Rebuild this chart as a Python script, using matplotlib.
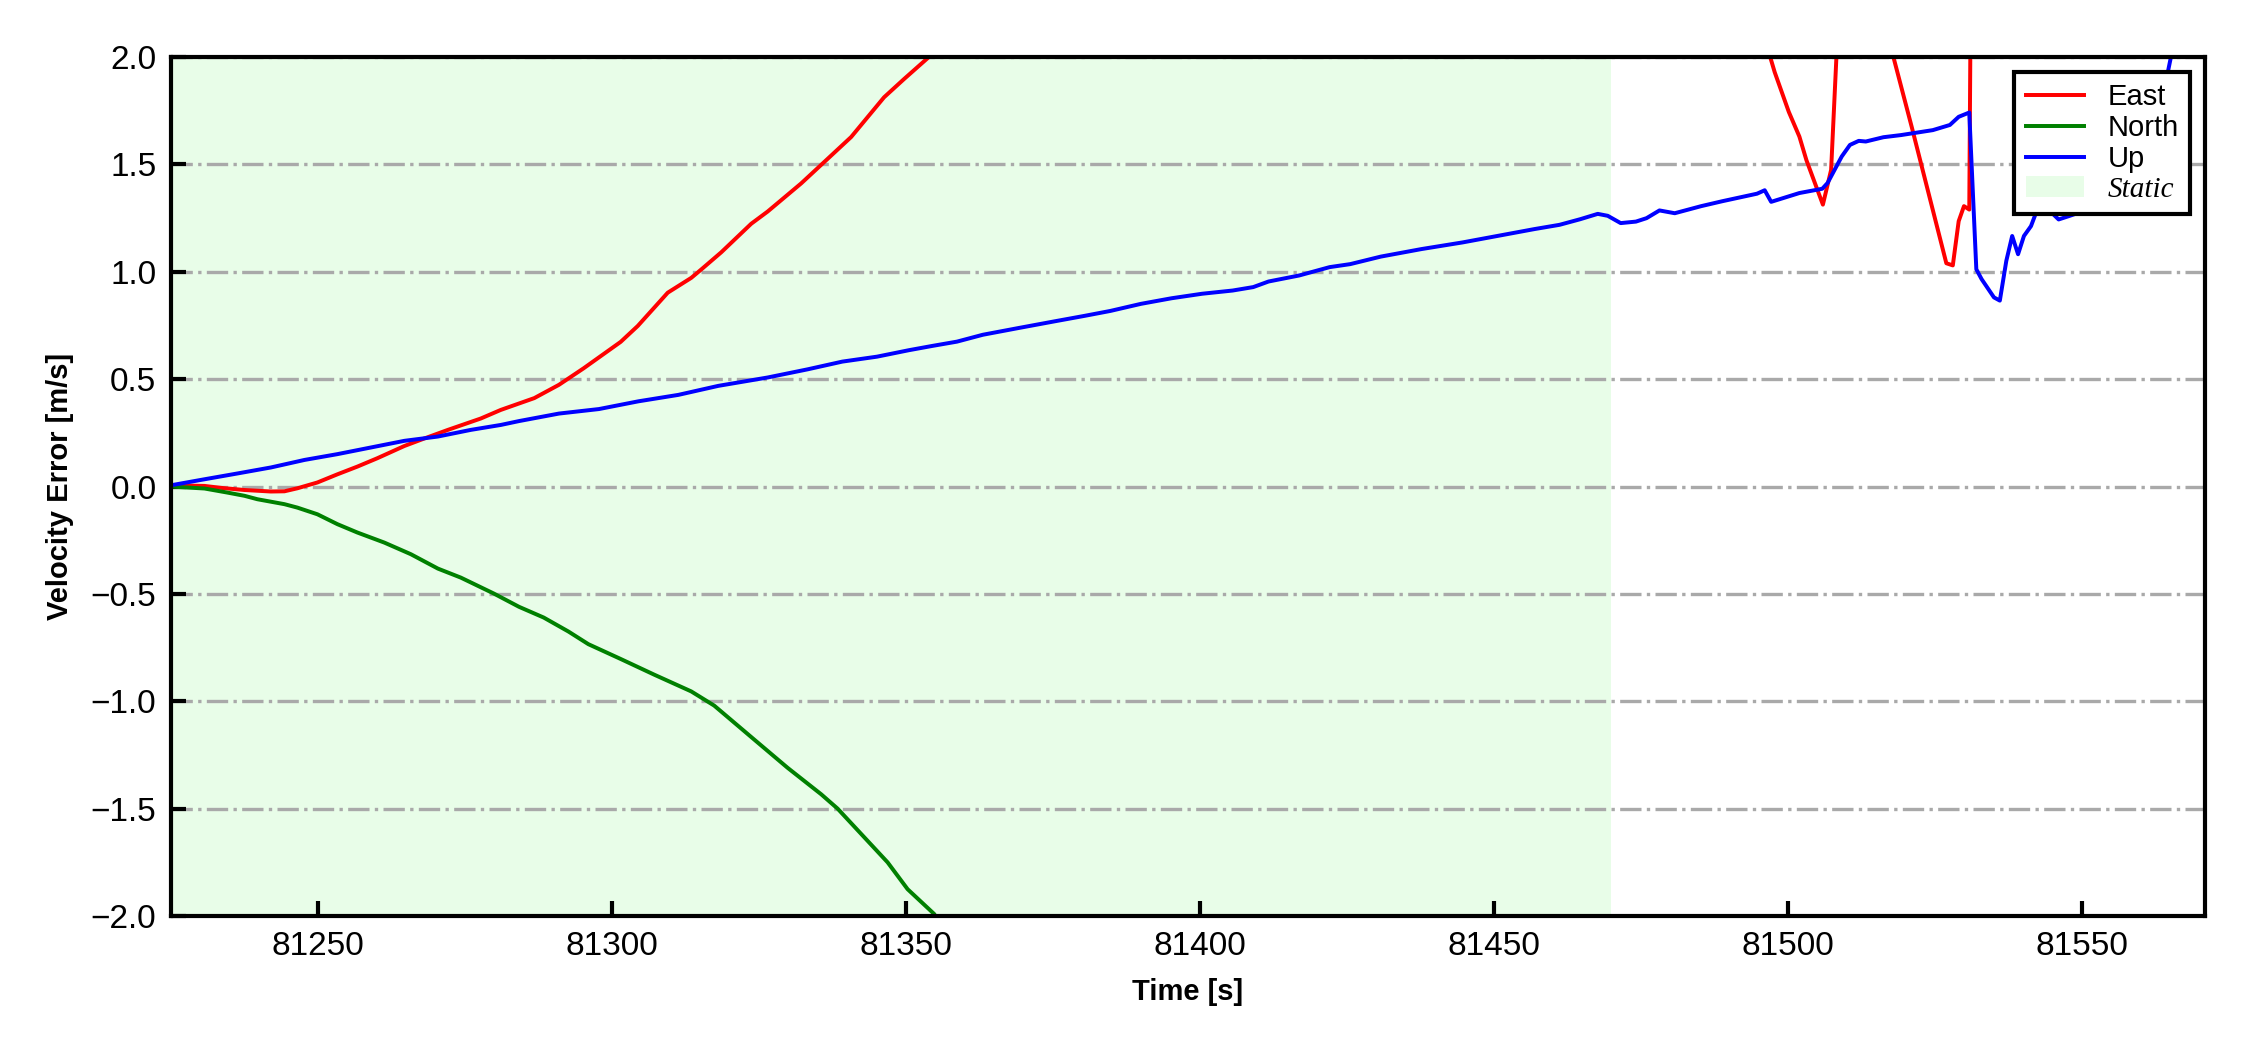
import numpy as np
import matplotlib
matplotlib.use('Agg')
import matplotlib.pyplot as plt

plt.rcParams['font.family'] = ['Liberation Sans', 'DejaVu Sans']
plt.rcParams['axes.unicode_minus'] = True

# East velocity error (NaN = off scale gap)
t_east = [81225, 81230.7, 81233.5, 81237.5, 81242.0, 81244.3, 81246.5, 81249.9,
          81253.3, 81256.7, 81260.1, 81264.7, 81268.1, 81272.1, 81277.7, 81281.1,
          81286.8, 81291.0, 81295.2, 81301.5, 81304.4, 81309.5, 81313.5, 81315.2,
          81318.6, 81323.7, 81326.5, 81332.2, 81336.1, 81340.7, 81346.3, 81349.7,
          81353.7, 81355.0,
          81420,
          81496.5, 81497.8, 81500.2, 81502.0, 81503.2, 81506.0, 81507.4, 81508.3, 81508.6,
          81513,
          81517.8, 81518.0, 81521.1, 81527.0, 81528.1, 81529.1, 81530.0, 81530.9, 81531.1]
v_east = [0.006, 0.003, -0.006, -0.016, -0.023, -0.022, -0.008, 0.019,
          0.057, 0.093, 0.132, 0.189, 0.224, 0.264, 0.317, 0.357,
          0.412, 0.474, 0.551, 0.674, 0.748, 0.903, 0.972, 1.011,
          1.091, 1.224, 1.281, 1.412, 1.511, 1.628, 1.813, 1.898,
          1.995, 2.03,
          np.nan,
          2.05, 1.93, 1.745, 1.63, 1.52, 1.313, 1.475, 2.0, 2.05,
          np.nan,
          2.05, 2.0, 1.676, 1.04, 1.03, 1.236, 1.306, 1.29, 2.1]

# North velocity error
t_north = [81225, 81230.7, 81234.6, 81237.5, 81239.7, 81244.3, 81246.5, 81249.9,
           81253.3, 81256.7, 81261.3, 81265.8, 81270.4, 81274.3, 81279.9, 81284.2,
           81288.4, 81292.6, 81296.0, 81301.5, 81307.2, 81313.5, 81317.4, 81324.2,
           81329.9, 81335.6, 81338.4, 81343.5, 81346.9, 81350.3, 81354.8, 81355.8]
v_north = [0.0, -0.009, -0.028, -0.043, -0.059, -0.082, -0.098, -0.129,
           -0.175, -0.214, -0.261, -0.315, -0.382, -0.424, -0.498, -0.56,
           -0.61, -0.675, -0.734, -0.803, -0.876, -0.954, -1.02, -1.178,
           -1.31, -1.433, -1.5, -1.65, -1.75, -1.875, -1.99, -2.03]

# Up velocity error
t_up = [81225, 81230.7, 81236.3, 81242.0, 81247.7, 81253.3, 81259.0, 81264.7,
        81270.4, 81276.0, 81281.1, 81284.2, 81291.0, 81297.8, 81304.5, 81311.3,
        81318.1, 81326.5, 81333.3, 81339.2, 81345.1, 81350.5, 81354.5, 81358.7,
        81363.1, 81369.1, 81375.2, 81380.4, 81384.8, 81390.0, 81395.2, 81400.4,
        81405.6, 81409.1, 81411.7, 81416.9, 81422.1, 81425.6, 81430.8, 81437.7,
        81444.7, 81450.8, 81456.9, 81461.2, 81464.7, 81467.7, 81469.4, 81471.6,
        81474.2, 81476.0, 81478.2, 81480.8, 81485.3, 81488.9, 81494.8, 81496.1,
        81497.2, 81502.0, 81505.9, 81506.8, 81509.2, 81510.6, 81512.1, 81513.3,
        81516.3, 81519.3, 81524.7, 81527.6, 81529.1, 81530.9, 81532.1, 81533.0,
        81535.1, 81536.1, 81537.2, 81538.2, 81539.2, 81540.2, 81541.4, 81542.6,
        81544.0, 81546.1, 81547.9, 81550.0, 81554.0, 81558.0, 81561.0, 81563.0,
        81564.6, 81565.2, 81565.6]
v_up = [0.006, 0.034, 0.061, 0.089, 0.124, 0.151, 0.182, 0.213,
        0.233, 0.264, 0.287, 0.305, 0.34, 0.361, 0.397, 0.427,
        0.469, 0.508, 0.546, 0.582, 0.605, 0.635, 0.655, 0.675,
        0.707, 0.738, 0.769, 0.795, 0.818, 0.851, 0.877, 0.898,
        0.913, 0.929, 0.955, 0.983, 1.022, 1.036, 1.071, 1.106,
        1.137, 1.168, 1.199, 1.219, 1.245, 1.27, 1.261, 1.227,
        1.234, 1.25, 1.286, 1.273, 1.306, 1.329, 1.364, 1.38,
        1.326, 1.367, 1.387, 1.414, 1.537, 1.591, 1.61, 1.607,
        1.627, 1.637, 1.66, 1.684, 1.722, 1.742, 1.012, 0.966,
        0.881, 0.866, 1.051, 1.167, 1.082, 1.167, 1.213, 1.30,
        1.30, 1.244, 1.26, 1.28, 1.32, 1.40, 1.55, 1.75,
        1.92, 2.0, 2.06]

static_start = 81225
static_end = 81470

fig = plt.figure(figsize=(7.5, 3.5), dpi=300)
ax = fig.add_axes([0.076, 0.1276, 0.904, 0.818])

ax.axvspan(static_start, static_end, facecolor='#e8fde8', edgecolor='none', label='Static', zorder=0)
ax.plot(t_east, v_east, color='red', lw=0.95, label='East')
ax.plot(t_north, v_north, color='green', lw=0.95, label='North')
ax.plot(t_up, v_up, color='blue', lw=0.95, label='Up')

ax.set_xlim(81225, 81571)
ax.set_ylim(-2.0, 2.0)
ax.set_yticks(np.arange(-2.0, 2.01, 0.5))
ax.set_xticks(np.arange(81250, 81551, 50))
ax.ticklabel_format(axis='x', useOffset=False)
ax.yaxis.grid(True, linestyle='-.', color='darkgray', lw=0.8)
ax.set_axisbelow(True)

ax.tick_params(direction='in', length=3.5, width=1.0, labelsize=8, top=False, right=False)
for sp in ax.spines.values():
    sp.set_linewidth(1.0)

ax.set_xlabel('Time [s]', fontsize=7, fontweight='bold')
ax.set_ylabel('Velocity Error [m/s]', fontsize=7, fontweight='bold')

h, l = ax.get_legend_handles_labels()
order = [1, 2, 3, 0]
leg = ax.legend([h[i] for i in order], [l[i] for i in order], loc='upper right',
                fontsize=7, fancybox=False, framealpha=1, edgecolor='black',
                labelspacing=0.1)
leg.get_frame().set_linewidth(1.0)
leg.get_texts()[3].set_fontfamily('Liberation Serif')
leg.get_texts()[3].set_fontstyle('italic')

fig.savefig('out.png', dpi=300)
